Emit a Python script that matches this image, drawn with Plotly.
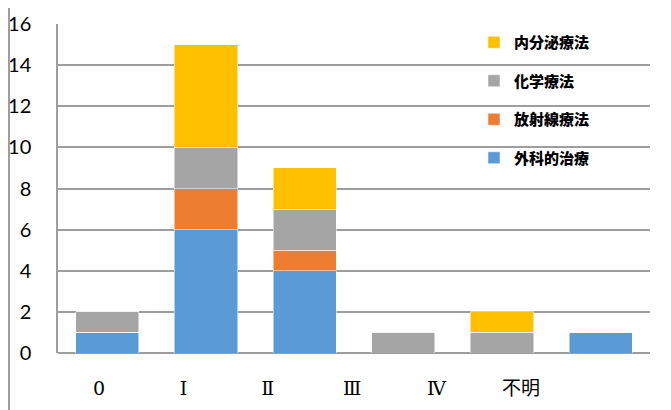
import plotly.graph_objects as go

categories = ["0", "Ⅰ", "Ⅱ", "Ⅲ", "Ⅳ", "不明"]
surgery = [1, 6, 4, 0, 0, 1]        # 外科的治療
radiation = [0, 2, 1, 0, 0, 0]      # 放射線療法
chemo = [1, 2, 2, 1, 1, 0]          # 化学療法
endocrine = [0, 5, 2, 0, 1, 0]      # 内分泌療法
y_ticks = [0, 2, 4, 6, 8, 10, 12, 14, 16]

series = [
    ("外科的治療", surgery, "#5B9BD5"),
    ("放射線療法", radiation, "#ED7D31"),
    ("化学療法", chemo, "#A5A5A5"),
    ("内分泌療法", endocrine, "#FFC000"),
]

fig = go.Figure()
for i, (name, vals, color) in enumerate(series):
    fig.add_trace(go.Bar(
        x=categories, y=vals, name=name,
        marker=dict(color=color, line=dict(color="white", width=0.5)),
        legendgroup=f"g{i}", legendrank=len(series) - i,
    ))

# invisible trace carrying the category labels on an overlaid axis
fig.add_trace(go.Scatter(x=categories, y=[None] * len(categories), xaxis="x2",
                         showlegend=False, hoverinfo="skip", mode="markers"))

OFF = 8  # page body margin
W, H = 671 - OFF, 410 - OFF
L, R, T, B = 58 - OFF, 21, 24 - OFF, 57
pw = W - L - R
ph = H - T - B
ax0 = L + OFF  # absolute pixel of plot left edge

fig.update_layout(
    width=W, height=H,
    margin=dict(l=L, r=R, t=T, b=B, autoexpand=False),
    barmode="stack",
    bargap=0.36,
    plot_bgcolor="white",
    paper_bgcolor="white",
    font=dict(family="Lato, Noto Sans CJK JP", color="black"),
    xaxis=dict(type="category", categoryarray=categories, showticklabels=False,
               showgrid=False, showline=False, ticks="", range=[-0.5, 5.5],
               automargin=False),
    xaxis2=dict(type="category", categoryarray=categories, overlaying="x", side="bottom",
                range=[(ax0 - 99) / 84.4, (ax0 + pw - 99) / 84.4],
                showgrid=False, showline=False, ticks="", automargin=False,
                tickfont=dict(family="DejaVu Serif, Noto Sans CJK JP", size=19, color="black"),
                ticklabelstandoff=22),
    yaxis=dict(range=[0, 16], tickvals=y_ticks, showgrid=True, gridcolor="#9E9E9E",
               gridwidth=1.5, showline=True, linecolor="#9E9E9E", linewidth=1.5,
               zeroline=True, zerolinecolor="#9E9E9E", zerolinewidth=1.5,
               tickfont=dict(family="Lato", size=20, color="black"),
               ticklabelstandoff=21, automargin=False),
    legend=dict(x=(474 - ax0) / pw, y=1 - (26 - 24) / ph, xanchor="left", yanchor="top",
                traceorder="grouped", tracegroupgap=16,
                bgcolor="rgba(0,0,0,0)",
                font=dict(family="Noto Sans CJK JP", size=15, color="black", weight=900),
                itemwidth=30),
    shapes=[dict(type="line", xref="paper", yref="paper",
                 x0=(1 - L) / pw, x1=(1 - L) / pw, y0=-B / ph, y1=1 + T / ph,
                 line=dict(color="#9E9E9E", width=2))],
    showlegend=True,
)

fig.write_html("out.html")
